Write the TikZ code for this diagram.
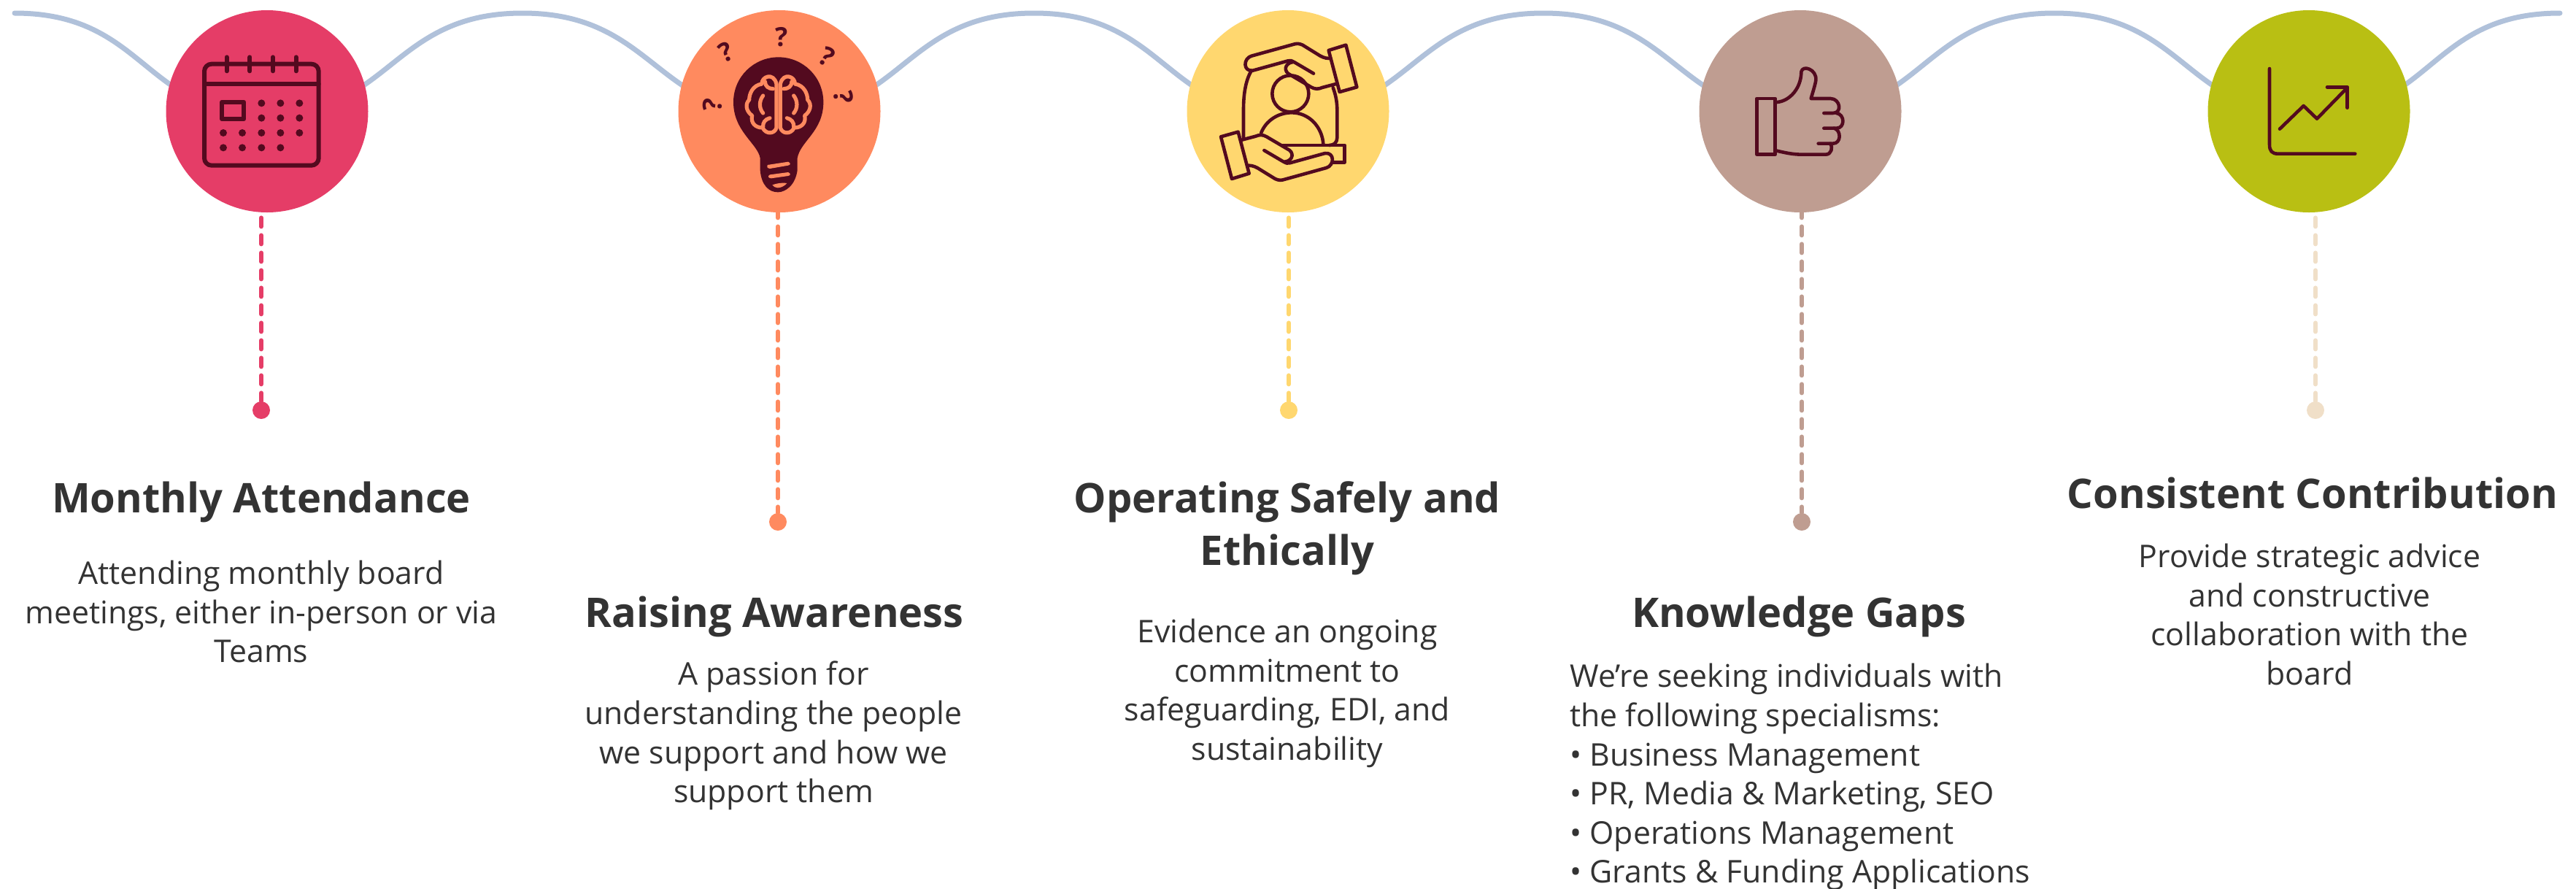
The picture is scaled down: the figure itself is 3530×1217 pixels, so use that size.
\documentclass[tikz,border=0pt]{standalone}
\usepackage{fontspec}
\setmainfont{Open Sans}
\definecolor{cA}{HTML}{E53D67}
\definecolor{cB}{HTML}{FF8A5F}
\definecolor{cC}{HTML}{FFD76F}
\definecolor{cD}{HTML}{BF9D91}
\definecolor{cE}{HTML}{B9BF13}
\definecolor{cEl}{HTML}{F0DFC8}
\definecolor{ink}{HTML}{530A1F}
\definecolor{wave}{HTML}{B0C1DA}
\definecolor{txt}{HTML}{333333}
\tikzset{
  hub/.style={circle,minimum size=138.5pt,inner sep=0pt,fill=#1},
  pin/.style={circle,minimum size=12pt,inner sep=0pt,fill=#1},
  stem/.style={draw=#1,line width=3pt,line cap=round,dash pattern=on 6pt off 6pt},
  wavy/.style={draw=wave,line width=3.5pt,line cap=round},
  heading/.style={font=\fontsize{28}{36}\selectfont\bfseries,text=txt,align=center,inner sep=0pt},
  bodytext/.style={font=\fontsize{21.4}{26.8}\selectfont,text=txt,align=center,inner sep=0pt},
  iconline/.style={draw=ink,line width=2.3pt,line cap=round,line join=round},
  iconbold/.style={draw=ink,line width=3pt,line cap=round,line join=round},
  brainline/.style={draw=cB,line width=2.6pt,line cap=round,line join=round},
  qmark/.style={font=\fontsize{18}{18}\selectfont\bfseries,text=ink,inner sep=0pt},
  icon/.style={x=0.16667pt,y=-0.16667pt},
}
\begin{document}
\begin{tikzpicture}[x=0.5pt,y=-0.5pt]
\useasboundingbox (0,0) rectangle (3530,1217);
% wave
\coordinate (w0) at (20,18);
\coordinate (w1) at (716,18);
\coordinate (w2) at (1417,18);
\coordinate (w3) at (2115,18);
\coordinate (w4) at (2815,18);
\coordinate (w5) at (3508,18);
\coordinate (t1) at (366,157);
\coordinate (t2) at (1068,157);
\coordinate (t3) at (1765,157);
\coordinate (t4) at (2467,157);
\coordinate (t5) at (3164,157);
\draw[wavy] (w0) .. controls +(180,0) and +(-170,0) .. (t1)
  .. controls +(170,0) and +(-180,0) .. (w1)
  .. controls +(180,0) and +(-170,0) .. (t2)
  .. controls +(170,0) and +(-180,0) .. (w2)
  .. controls +(180,0) and +(-170,0) .. (t3)
  .. controls +(170,0) and +(-180,0) .. (w3)
  .. controls +(180,0) and +(-170,0) .. (t4)
  .. controls +(170,0) and +(-180,0) .. (w4)
  .. controls +(180,0) and +(-170,0) .. (t5)
  .. controls +(170,0) and +(-180,0) .. (w5);
% hubs
\node[hub=cA] (c1) at (366,152.5) {};
\node[hub=cB] (c2) at (1068,152.5) {};
\node[hub=cC] (c3) at (1765,152.5) {};
\node[hub=cD] (c4) at (2467,152.5) {};
\node[hub=cE] (c5) at (3164,152.5) {};
% pins
\node[pin=cA] (d1) at (358,562) {};
\node[pin=cB] (d2) at (1066,715) {};
\node[pin=cC] (d3) at (1766,562) {};
\node[pin=cD] (d4) at (2469,715) {};
\node[pin=cEl] (d5) at (3173,562) {};
\draw[stem=cA] (d1 |- c1.south) ++(0,7) -- (d1);
\draw[stem=cB] (d2 |- c2.south) ++(0,-5) -- (d2);
\draw[stem=cC] (d3 |- c3.south) ++(0,7) -- (d3);
\draw[stem=cD] (d4 |- c4.south) ++(0,-5) -- (d4);
\draw[stem=cEl] (d5 |- c5.south) ++(0,7) -- (d5);
% calendar
\begin{scope}[xshift=100pt,icon]
\draw[iconbold,rounded corners=5pt] (240,263) rectangle (710,680);
\draw[iconbold] (240,346) -- (710,346);
\foreach \xx in {332,427,522,617} \draw[iconbold] (\xx,235) -- (\xx,292);
\draw[iconbold] (313,419) rectangle (402,490);
\foreach \xx/\yy in {475/424,553/424,631/424,475/485,553/485,631/485,318/546,396/546,475/546,553/546,631/546,318/607,396/607,475/607,553/607}
  \fill[ink] (\xx,\yy) circle (2.5pt);
\end{scope}
% bulb
\begin{scope}[xshift=450pt,icon]
\fill[ink] (425,650) .. controls (415,590) and (315,540) .. (315,420)
  .. controls (315,315) and (400,235) .. (500,235)
  .. controls (600,235) and (685,315) .. (685,420)
  .. controls (685,540) and (590,580) .. (578,650) -- (578,700)
  .. controls (570,760) and (530,790) .. (498,790)
  .. controls (460,790) and (430,760) .. (425,700) -- cycle;
\fill[cB] (455,678) -- (540,665) .. controls (552,670) and (550,678) .. (540,680) -- (465,693) .. controls (452,692) and (452,682) .. (455,678) -- cycle;
\fill[cB] (465,718) -- (540,708) .. controls (552,712) and (550,722) .. (540,723) -- (470,733) .. controls (456,732) and (456,722) .. (465,718) -- cycle;
\fill[cB] (475,760) .. controls (500,752) and (520,750) .. (535,753) .. controls (525,765) and (510,772) .. (497,772) .. controls (488,772) and (480,767) .. (475,760) -- cycle;
\foreach \sc/\ox in {1/0,-1/1000}{
\begin{scope}[xshift=\ox*0.16667pt,xscale=\sc]
\draw[brainline] (492,345) -- (492,525) .. controls (485,550) and (450,555) .. (435,525)
  .. controls (405,525) and (385,505) .. (392,475) .. controls (370,460) and (360,430) .. (380,410)
  .. controls (380,385) and (395,350) .. (432,345) .. controls (430,315) and (480,295) .. (492,345);
\draw[brainline] (437,393) .. controls (420,415) and (420,445) .. (437,465);
\draw[brainline] (465,485) .. controls (445,490) and (435,505) .. (437,522);
\draw[brainline] (445,335) .. controls (445,355) and (460,365) .. (478,365);
\end{scope}}
\node[qmark] (q1) at (513,152) {?};
\node[qmark,rotate=25] (q2) at (285,215) {?};
\node[qmark,rotate=-30] (q3) at (700,232) {?};
\node[qmark,rotate=85] (q4) at (230,432) {?};
\node[qmark,rotate=-85] (q5) at (768,398) {?};
\end{scope}
% hands
\begin{scope}[xshift=800pt,icon]
\draw[iconline] (345,290) .. controls (320,330) and (312,390) .. (312,450) -- (312,565);
\draw[iconline] (680,360) .. controls (695,400) and (697,430) .. (697,460) -- (697,565) .. controls (697,585) and (685,597) .. (665,597);
\draw[iconline] (505,385) circle (12.5pt);
\draw[iconline] (385,545) .. controls (405,495) and (455,463) .. (510,463) .. controls (580,463) and (635,520) .. (640,592);
\draw[iconline] (470,597) -- (728,597) -- (728,667) -- (680,667);
\foreach \ang in {0,180}{
\begin{scope}[rotate around={\ang:(498.5,460)}]
\draw[iconline,fill=cC] (662,207) -- (733,185) -- (778,358) -- (707,378) -- cycle;
\draw[iconline] (664,240) .. controls (645,240) and (630,232) .. (615,222) -- (555,185) .. controls (540,178) and (530,178) .. (515,183) -- (345,230)
  .. controls (310,240) and (310,295) .. (350,290) -- (495,250) .. controls (505,247) and (510,250) .. (520,255) -- (600,302);
\draw[iconline] (515,255) .. controls (480,260) and (475,295) .. (505,308) -- (590,358) .. controls (605,367) and (620,367) .. (635,360) -- (692,345);
\end{scope}}
\end{scope}
% thumb
\begin{scope}[xshift=1150pt,icon]
\draw[iconline] (322,405) rectangle (398,635);
\draw[iconline] (405,420) .. controls (460,415) and (505,360) .. (505,295)
  .. controls (510,265) and (570,285) .. (565,330) .. controls (562,350) and (552,380) .. (545,405)
  -- (625,405) .. controls (665,405) and (675,465) .. (635,465) -- (598,465);
\draw[iconline] (650,465) .. controls (685,470) and (685,527) .. (650,527) -- (598,527);
\draw[iconline] (640,527) .. controls (670,535) and (670,590) .. (635,590) -- (575,590);
\draw[iconline] (625,590) .. controls (635,605) and (630,635) .. (605,635) -- (510,635) .. controls (470,635) and (440,628) .. (405,620);
\end{scope}
% chart
\begin{scope}[xshift=1500pt,icon]
\draw[iconline] (330,282) -- (330,595) .. controls (330,620) and (340,632) .. (365,632) -- (682,632);
\draw[iconline] (372,530) -- (470,435) -- (525,488) -- (650,360);
\draw[iconline] (567,358) -- (650,358) -- (650,443);
\end{scope}
% text
\node[heading] (h1) at (358,688) {Monthly Attendance};
\node[bodytext] (b1) at (358,838) {Attending monthly board\\meetings, either in-person or via\\Teams};
\node[heading] (h2) at (1061,845) {Raising Awareness};
\node[bodytext] (b2) at (1060,1008) {A passion for\\understanding the people\\we support and how we\\support them};
\node[heading] (h3) at (1764,724) {Operating Safely and\\Ethically};
\node[bodytext] (b3) at (1764,950) {Evidence an ongoing\\commitment to\\safeguarding, EDI, and\\sustainability};
\node[heading] (h4) at (2465,845) {Knowledge Gaps};
\node[bodytext,align=left,anchor=north west] (b4) at (2151,909) {We’re seeking individuals with\\the following specialisms:\\• Business Management\\• PR, Media \& Marketing, SEO\\• Operations Management\\• Grants \& Funding Applications};
\node[heading] (h5) at (3169,675) {Consistent Contribution};
\node[bodytext] (b5) at (3165,842) {Provide strategic advice\\and constructive\\collaboration with the\\board};
\end{tikzpicture}
\end{document}
